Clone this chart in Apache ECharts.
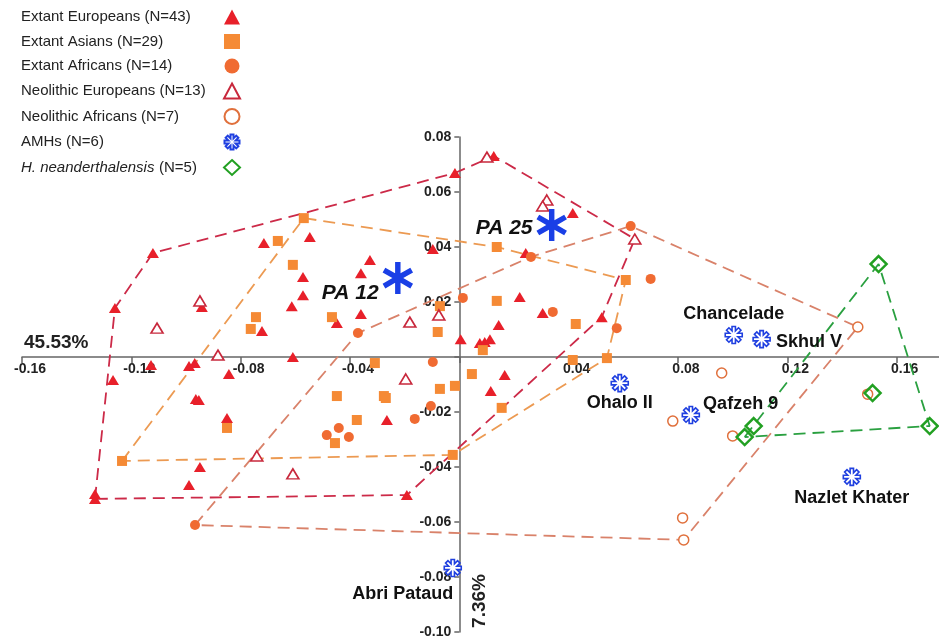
<!DOCTYPE html>
<html>
<head>
<meta charset="utf-8">
<script src="https://cdn.jsdelivr.net/npm/echarts@6/dist/echarts.min.js"></script>
<style>
  html, body { margin: 0; padding: 0; background: #fff; }
  #chart { width: 939px; height: 641px; }
</style>
</head>
<body>
<div id="chart"></div>
<script>
// group names (legend order)
const groupNames = [
  'Extant Europeans (N=43)',
  'Extant Asians (N=29)',
  'Extant Africans (N=14)',
  'Neolithic Europeans (N=13)',
  'Neolithic Africans (N=7)',
  'AMHs (N=6)',
  'H. neanderthalensis (N=5)'
];

// PC1 / PC2 scores
const extantEuropeans = [
  [-0.1121, 0.0378], [-0.1260, 0.0178], [-0.0715, 0.0415], [-0.0547, 0.0436],
  [-0.0572, 0.0291], [-0.0572, 0.0225], [-0.0613, 0.0185], [-0.0942, 0.0182],
  [-0.0722, 0.0095], [-0.0609, 0.0000], [-0.1128, -0.0029], [-0.0989, -0.0033],
  [-0.0968, -0.0022], [-0.0843, -0.0062], [-0.1267, -0.0084], [-0.0964, -0.0153],
  [-0.0953, -0.0156], [-0.0850, -0.0222], [-0.0949, -0.0400], [-0.0989, -0.0465],
  [-0.1333, -0.0498], [-0.1333, -0.0516], [-0.0327, 0.0353], [-0.0360, 0.0305],
  [-0.0360, 0.0156], [-0.0448, 0.0124], [-0.0016, 0.0669], [0.0126, 0.0731],
  [0.0415, 0.0524], [0.0243, 0.0378], [0.0221, 0.0218], [0.0305, 0.0160],
  [0.0144, 0.0116], [0.0005, 0.0065], [0.0075, 0.0051], [0.0093, 0.0055],
  [0.0112, 0.0065], [0.0521, 0.0145], [-0.0097, 0.0393], [-0.0265, -0.0229],
  [0.0115, -0.0124], [0.0166, -0.0065], [-0.0192, -0.0502]
];
const extantAsians = [
  [-0.0569, 0.0505], [-0.0664, 0.0422], [-0.0609, 0.0335], [-0.0744, 0.0145],
  [-0.0763, 0.0102], [-0.1234, -0.0378], [-0.0850, -0.0258], [-0.0466, 0.0145],
  [-0.0309, -0.0022], [-0.0079, 0.0091], [0.0137, 0.0400], [0.0137, 0.0204],
  [0.0086, 0.0025], [0.0426, 0.0120], [0.0415, -0.0011], [0.0540, -0.0004],
  [0.0609, 0.0280], [-0.0071, -0.0116], [-0.0016, -0.0105], [0.0046, -0.0062],
  [-0.0448, -0.0142], [-0.0276, -0.0142], [-0.0269, -0.0149], [-0.0375, -0.0229],
  [-0.0455, -0.0313], [0.0155, -0.0185], [-0.0024, -0.0356], [-0.0071, 0.0185]
];
const extantAfricans = [
  [-0.0371, 0.0087], [-0.0097, -0.0018], [0.0013, 0.0215], [0.0262, 0.0364],
  [0.0342, 0.0164], [0.0627, 0.0476], [0.0700, 0.0284], [0.0576, 0.0105],
  [-0.0104, -0.0178], [-0.0163, -0.0225], [-0.0485, -0.0284], [-0.0441, -0.0258],
  [-0.0404, -0.0291], [-0.0967, -0.0611]
];
const neolithicEuropeans = [
  [-0.0949, 0.0204], [-0.1106, 0.0105], [-0.0883, 0.0007], [-0.0741, -0.0360],
  [-0.0609, -0.0425], [-0.0196, -0.0080], [-0.0181, 0.0127], [-0.0075, 0.0153],
  [0.0320, 0.0571], [0.0305, 0.0549], [0.0642, 0.0429], [0.0101, 0.0727]
];
const neolithicAfricans = [
  [0.1458, 0.0109], [0.0960, -0.0058], [0.0781, -0.0233], [0.1000, -0.0287],
  [0.0817, -0.0585], [0.0821, -0.0665], [0.1494, -0.0135]
];
const amhNames = ['Chancelade', 'Skhul V', 'Ohalo II', 'Qafzeh 9', 'Nazlet Khater', 'Abri Pataud'];
const amhPoints = [
  [0.1004, 0.0080], [0.1106, 0.0065], [0.0587, -0.0095],
  [0.0847, -0.0211], [0.1436, -0.0436], [-0.0024, -0.0767]
];
const neanderthals = [
  [0.1534, 0.0338], [0.1721, -0.0251], [0.1044, -0.0291], [0.1077, -0.0251], [0.1512, -0.0131]
];
const paNames = ['PA 12', 'PA 25'];
const paPoints = [[-0.0225, 0.0287], [0.0338, 0.0480]];

// convex hull outlines (vertices taken from the points above)
const europeanHull = [
  [-0.1333, -0.0516], [-0.1260, 0.0178], [-0.1121, 0.0378], [-0.0016, 0.0669],
  [0.0126, 0.0731], [0.0642, 0.0429], [0.0521, 0.0145], [-0.0192, -0.0502]
];
const asianHull = [
  [-0.1234, -0.0378], [-0.0569, 0.0505], [0.0137, 0.0400], [0.0609, 0.0280],
  [0.0540, -0.0004], [-0.0024, -0.0356]
];
const africanHull = [
  [-0.0967, -0.0611], [-0.0371, 0.0087], [0.0262, 0.0364], [0.0627, 0.0476],
  [0.1458, 0.0109], [0.0821, -0.0665]
];
const neanderthalHull = [[0.1044, -0.0291], [0.1534, 0.0338], [0.1721, -0.0251]];

// axis ranges
const X_MIN = -0.16, X_MAX = 0.1755, X_STEP = 0.04;
const Y_MIN = -0.10, Y_MAX = 0.08, Y_STEP = 0.02;

const FONT = "'Liberation Sans', Arial, sans-serif";

const GRID = { left: 22, right: 0, top: 137, bottom: 9 };
const PLOT_W = 939 - GRID.left - GRID.right;
const PLOT_H = 641 - GRID.top - GRID.bottom;

// n-armed asterisk outline as an svg path
function asterisk(n, halfW, rot) {
  const pts = [];
  const r = halfW / Math.sin(Math.PI / n);
  for (let k = 0; k < n; k++) {
    const a = rot + k * 2 * Math.PI / n;
    const ux = Math.cos(a), uy = Math.sin(a);
    const px = -uy, py = ux;
    pts.push([ux - halfW * px, uy - halfW * py]);
    pts.push([ux + halfW * px, uy + halfW * py]);
    const b = a + Math.PI / n;
    pts.push([r * Math.cos(b), r * Math.sin(b)]);
  }
  return 'path://M' + pts.map(p => (p[0] * 50 + 50).toFixed(2) + ' ' + (p[1] * 50 + 50).toFixed(2)).join(' L') + ' Z';
}
const AMH_SYMBOL = asterisk(8, 0.2, -Math.PI / 2);
const PA_SYMBOL = asterisk(6, 0.17, -Math.PI / 2);

function closed(h) { return h.concat([h[0]]); }
function hull(data, color) {
  return {
    type: 'line', data: closed(data), showSymbol: false, symbol: 'none', silent: true, z: 1,
    lineStyle: { color: color, width: 1.8, type: [12, 7] }
  };
}
function tickFmt(step) {
  return v => {
    if (Math.abs(v) < 1e-9) return '';
    const r = Math.round(v / step);
    if (Math.abs(r * step - v) > 1e-6) return '';
    return v.toFixed(2);
  };
}

const amhLabels = {
  'Chancelade': { position: 'top', distance: 3 },
  'Skhul V': { position: 'right', distance: 5, offset: [0, 3] },
  'Ohalo II': { position: 'bottom', distance: 2 },
  'Qafzeh 9': { position: 'right', distance: 3, offset: [0, -11] },
  'Nazlet Khater': { position: 'bottom', distance: 3 },
  'Abri Pataud': { position: 'bottom', distance: 3, offset: [-50, 5] }
};
const paLabels = {
  'PA 12': { position: 'left', distance: 4, offset: [0, 15] },
  'PA 25': { position: 'left', distance: 4, offset: [0, 3] }
};

const chart = echarts.init(document.getElementById('chart'));

const option = {
  animation: false,
  grid: Object.assign({ containLabel: false, outerBoundsMode: 'none' }, GRID),
  legend: {
    data: groupNames,
    orient: 'vertical',
    left: 16, top: 4,
    align: 'right',
    itemWidth: 16, itemHeight: 15, itemGap: 8.5,
    textStyle: {
      fontFamily: FONT, fontSize: 15, color: '#222', lineHeight: 16,
      rich: {
        t: { fontFamily: FONT, fontSize: 15, color: '#222', width: 198, align: 'left' },
        i: { fontFamily: FONT, fontSize: 15, color: '#222', fontStyle: 'italic', width: 138, align: 'left' },
        n: { fontFamily: FONT, fontSize: 15, color: '#222', width: 60, align: 'left' }
      }
    },
    formatter: name => {
      if (name.indexOf('H. neanderthalensis') === 0) {
        return '{i|H. neanderthalensis}{n|' + name.slice('H. neanderthalensis '.length) + '}';
      }
      return '{t|' + name + '}';
    }
  },
  xAxis: {
    type: 'value', min: X_MIN, max: X_MAX, interval: X_STEP,
    position: 'bottom',
    offset: -(0 - Y_MIN) / (Y_MAX - Y_MIN) * PLOT_H,
    splitLine: { show: false },
    axisLine: { onZero: false, lineStyle: { color: '#666', width: 1.5 } },
    axisTick: { length: 6, lineStyle: { color: '#666', width: 1.5 } },
    axisLabel: {
      formatter: tickFmt(X_STEP), margin: 5, padding: [0, 0, 0, 16],
      fontFamily: FONT, fontWeight: 'bold', fontSize: 14, color: '#222',
      showMaxLabel: false, hideOverlap: false
    }
  },
  yAxis: {
    type: 'value', min: Y_MIN, max: Y_MAX, interval: Y_STEP,
    position: 'left',
    offset: -(0 - X_MIN) / (X_MAX - X_MIN) * PLOT_W,
    splitLine: { show: false },
    axisLine: { onZero: false, lineStyle: { color: '#666', width: 1.5 } },
    axisTick: { length: 5, lineStyle: { color: '#666', width: 1.5 } },
    axisLabel: {
      formatter: tickFmt(Y_STEP), margin: 8,
      fontFamily: FONT, fontWeight: 'bold', fontSize: 14, color: '#222', hideOverlap: false
    }
  },
  graphic: [
    { type: 'text', x: 24, y: 333, style: { text: '45.53%', font: 'bold 19px ' + FONT, fill: '#222' } },
    { type: 'text', x: 480, y: 601, rotation: Math.PI / 2,
      style: { text: '7.36%', font: 'bold 19px ' + FONT, fill: '#222', align: 'center', verticalAlign: 'middle' } }
  ],
  series: [
    hull(europeanHull, '#cc2a48'),
    hull(asianHull, '#ec9a52'),
    hull(africanHull, '#d9826a'),
    hull(neanderthalHull, '#2aa040'),
    {
      name: groupNames[0], type: 'scatter', data: extantEuropeans, symbol: 'triangle', symbolSize: [12, 10], z: 3,
      itemStyle: { color: '#e8202a', opacity: 1 }
    },
    {
      name: groupNames[1], type: 'scatter', data: extantAsians, symbol: 'rect', symbolSize: 10, z: 3,
      itemStyle: { color: '#f58a35', opacity: 1 }
    },
    {
      name: groupNames[2], type: 'scatter', data: extantAfricans, symbol: 'circle', symbolSize: 10, z: 3,
      itemStyle: { color: '#f06b32', opacity: 1 }
    },
    {
      name: groupNames[3], type: 'scatter', data: neolithicEuropeans, symbol: 'triangle', symbolSize: [12, 10], z: 3,
      itemStyle: { color: '#fff', borderColor: '#c8283c', borderWidth: 1.6, opacity: 1 }
    },
    {
      name: groupNames[4], type: 'scatter', data: neolithicAfricans, symbol: 'circle', symbolSize: 10, z: 3,
      itemStyle: { color: '#fff', borderColor: '#e0703c', borderWidth: 1.5, opacity: 1 }
    },
    {
      name: groupNames[5], type: 'scatter', z: 4,
      data: amhPoints.map((p, i) => ({
        value: p, name: amhNames[i],
        label: Object.assign({ show: true, formatter: amhNames[i] }, amhLabels[amhNames[i]])
      })),
      symbol: AMH_SYMBOL, symbolSize: 17, symbolKeepAspect: true,
      itemStyle: { color: '#fff', borderColor: '#2040e0', borderWidth: 1.6, opacity: 1 },
      label: { fontFamily: FONT, fontWeight: 'bold', fontSize: 18, color: '#111' }
    },
    {
      name: groupNames[6], type: 'scatter', data: neanderthals, symbol: 'diamond', symbolSize: 16, z: 4,
      itemStyle: { color: 'rgba(255,255,255,0)', borderColor: '#22a022', borderWidth: 2.5, opacity: 1 }
    },
    {
      name: 'PA', type: 'scatter', z: 5,
      data: paPoints.map((p, i) => ({
        value: p, name: paNames[i],
        label: Object.assign({ show: true, formatter: paNames[i] }, paLabels[paNames[i]])
      })),
      symbol: PA_SYMBOL, symbolSize: 32, symbolKeepAspect: true,
      itemStyle: { color: '#1a3fe6', opacity: 1 },
      label: { fontFamily: FONT, fontWeight: 'bold', fontStyle: 'italic', fontSize: 21, color: '#111' }
    }
  ]
};

chart.setOption(option);
</script>
</body>
</html>
